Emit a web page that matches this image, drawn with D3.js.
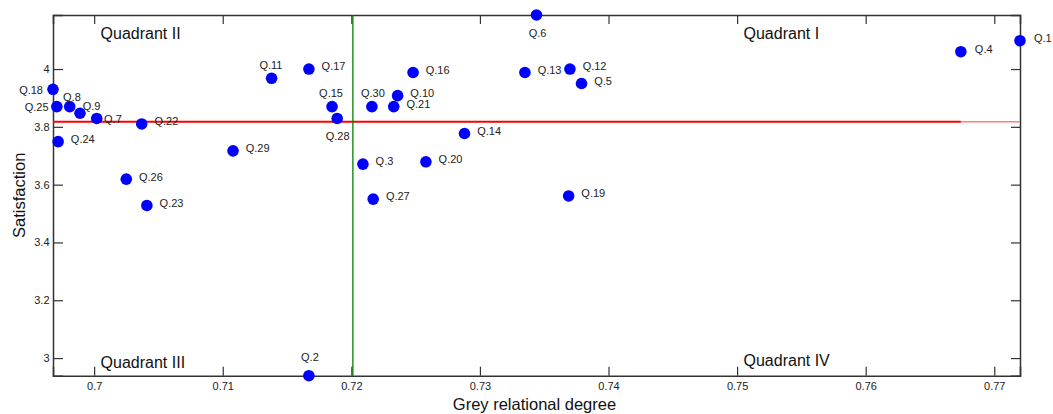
<!DOCTYPE html>
<html>
<head>
<meta charset="utf-8">
<script src="https://cdn.jsdelivr.net/npm/d3@7"></script>
<style>
  body { margin: 0; background: #fff; }
  svg { font-family: Arial, "Liberation Sans", sans-serif; }
  .axis path.domain { stroke: #333; stroke-width: 1.5; }
  .axis line { stroke: #333; stroke-width: 1.2; }
  .axis text { font-size: 11px; fill: #222; }
</style>
</head>
<body>
<svg width="1053" height="414"></svg>
<script>
const questions = ['Q.1','Q.2','Q.3','Q.4','Q.5','Q.6','Q.7','Q.8','Q.9','Q.10',
  'Q.11','Q.12','Q.13','Q.14','Q.15','Q.16','Q.17','Q.18','Q.19','Q.20',
  'Q.21','Q.22','Q.23','Q.24','Q.25','Q.26','Q.27','Q.28','Q.29','Q.30'];
const greyDegree = [0.7720, 0.7167, 0.7209, 0.7674, 0.7379, 0.7344, 0.7002, 0.6981, 0.6989, 0.7236,
  0.7138, 0.7370, 0.7335, 0.7288, 0.7185, 0.7248, 0.7167, 0.6968, 0.7369, 0.7258,
  0.7233, 0.7037, 0.7041, 0.6972, 0.6971, 0.7025, 0.7217, 0.7189, 0.7108, 0.7216];
const satisfaction = [4.098, 2.939, 3.671, 4.060, 3.950, 4.187, 3.829, 3.870, 3.847, 3.908,
  3.968, 4.000, 3.988, 3.777, 3.870, 3.988, 4.000, 3.930, 3.561, 3.679,
  3.870, 3.810, 3.528, 3.749, 3.870, 3.619, 3.550, 3.829, 3.717, 3.870];
const xTicks = [0.70, 0.71, 0.72, 0.73, 0.74, 0.75, 0.76, 0.77];
const yTicks = [3.0, 3.2, 3.4, 3.6, 3.8, 4.0];
const quadrants = [
  { name: 'Quadrant I', x: 0.7505, y: 4.105 },
  { name: 'Quadrant II', x: 0.7005, y: 4.105 },
  { name: 'Quadrant III', x: 0.7005, y: 2.966 },
  { name: 'Quadrant IV', x: 0.7505, y: 2.973 }
];
// where the solid red mean line stops, the rest is drawn lighter
const redSolidEnd = 0.7674;

const data = questions.map((q, i) => ({ q, x: greyDegree[i], y: satisfaction[i] }));

// label placement: [anchor, dx, dy] relative to the marker centre
const labelPos = {
  'Q.18': ['end', -10, 0.7],
  'Q.25': ['end', -8.3, 1],
  'Q.8': ['start', -6.7, -9.7],
  'Q.9': ['start', 2.7, -7.3],
  'Q.7': ['start', 7.3, 1],
  'Q.11': ['middle', -0.7, -13.3],
  'Q.15': ['middle', -1, -13.4],
  'Q.28': ['middle', 0.5, 17.7],
  'Q.6': ['middle', 1, 17.7],
  'Q.30': ['middle', 1, -13.7],
  'Q.2': ['middle', 1, -19],
  'Q.4': ['start', 14, -2.4],
  'Q.1': ['start', 14, -2.4]
};
const defaultPos = ['start', 12.7, -2.5];

const svg = d3.select('svg');
const width = +svg.attr('width');
const height = +svg.attr('height');
const margin = { top: 15, right: 33, bottom: 38.3, left: 53 };
const innerWidth = width - margin.left - margin.right;
const innerHeight = height - margin.top - margin.bottom;

const xScale = d3.scaleLinear()
  .domain(d3.extent(greyDegree))
  .range([0, innerWidth]);
const yScale = d3.scaleLinear()
  .domain(d3.extent(satisfaction))
  .range([innerHeight, 0]);

const g = svg.append('g')
  .attr('transform', `translate(${margin.left},${margin.top})`);

const fmt = d => d3.format('')(+d.toFixed(2));

g.append('g').attr('class', 'axis')
  .attr('transform', `translate(0,${innerHeight})`)
  .call(d3.axisBottom(xScale).tickValues(xTicks).tickSize(-9).tickPadding(6.5).tickFormat(fmt));
g.append('g').attr('class', 'axis')
  .call(d3.axisTop(xScale).tickValues(xTicks).tickSize(-9).tickFormat(''));
g.append('g').attr('class', 'axis')
  .call(d3.axisLeft(yScale).tickValues(yTicks).tickSize(-10).tickPadding(3.5).tickFormat(fmt));
g.append('g').attr('class', 'axis')
  .attr('transform', `translate(${innerWidth},0)`)
  .call(d3.axisRight(yScale).tickValues(yTicks).tickSize(-9).tickFormat(''));

// mean lines
const meanX = d3.mean(greyDegree);
const meanY = d3.mean(satisfaction);

g.append('line')
  .attr('x1', xScale(redSolidEnd)).attr('x2', innerWidth)
  .attr('y1', yScale(meanY)).attr('y2', yScale(meanY))
  .attr('stroke', '#ff7f7f').attr('stroke-width', 1.6);
g.append('line')
  .attr('x1', 0).attr('x2', xScale(redSolidEnd))
  .attr('y1', yScale(meanY)).attr('y2', yScale(meanY))
  .attr('stroke', '#ff0000').attr('stroke-width', 1.8);
g.append('line')
  .attr('x1', xScale(meanX)).attr('x2', xScale(meanX))
  .attr('y1', 0).attr('y2', innerHeight)
  .attr('stroke', '#008000').attr('stroke-width', 1.3);

// quadrant names
g.selectAll('.quad').data(quadrants).enter().append('text')
  .attr('class', 'quad')
  .attr('x', d => xScale(d.x))
  .attr('y', d => yScale(d.y))
  .attr('font-size', '16px')
  .attr('fill', '#111')
  .text(d => d.name);

// points
g.selectAll('circle').data(data).enter().append('circle')
  .attr('cx', d => xScale(d.x))
  .attr('cy', d => yScale(d.y))
  .attr('r', 5.8)
  .attr('fill', '#0000ff');

g.selectAll('.lbl').data(data).enter().append('text')
  .attr('class', 'lbl')
  .each(function(d) {
    const p = labelPos[d.q] || defaultPos;
    d3.select(this)
      .attr('text-anchor', p[0])
      .attr('x', xScale(d.x) + p[1])
      .attr('y', yScale(d.y) + p[2])
      .attr('dy', '0.35em');
  })
  .attr('font-size', '11px')
  .attr('fill', '#222')
  .text(d => d.q);

// axis titles
svg.append('text')
  .attr('x', margin.left + innerWidth / 2 - 2)
  .attr('y', 410)
  .attr('text-anchor', 'middle')
  .attr('font-size', '16.5px')
  .attr('fill', '#111')
  .text('Grey relational degree');

svg.append('text')
  .attr('transform', `translate(25,${margin.top + innerHeight / 2}) rotate(-90)`)
  .attr('text-anchor', 'middle')
  .attr('font-size', '16.5px')
  .attr('fill', '#111')
  .text('Satisfaction');
</script>
</body>
</html>
